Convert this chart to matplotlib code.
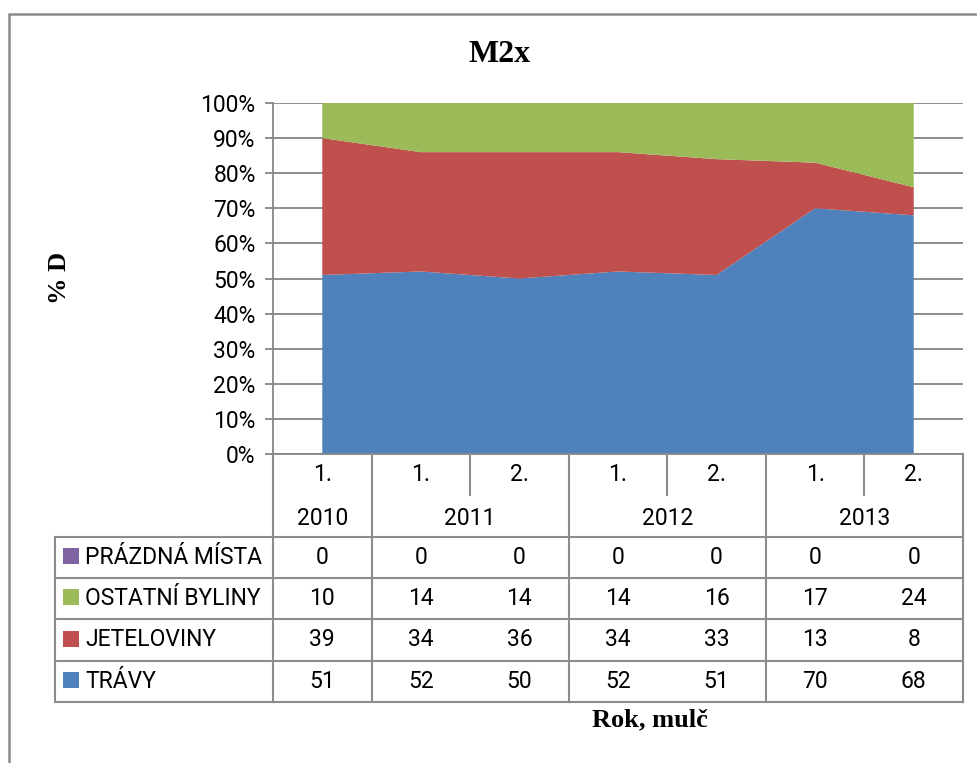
import numpy as np
import matplotlib
matplotlib.use("Agg")
import matplotlib.pyplot as plt
from matplotlib.patches import Rectangle
from matplotlib.ticker import PercentFormatter

# ---- data -------------------------------------------------------------
years = ["2010", "2011", "2012", "2013"]
year_spans = [1, 2, 2, 2]                      # number of cuts per year
cuts = ["1.", "1.", "2.", "1.", "2.", "1.", "2."]

series_names = ["TRÁVY", "JETELOVINY", "OSTATNÍ BYLINY", "PRÁZDNÁ MÍSTA"]
travy = [51, 52, 50, 52, 51, 70, 68]
jeteloviny = [39, 34, 36, 34, 33, 13, 8]
ostatni_byliny = [10, 14, 14, 14, 16, 17, 24]
prazdna_mista = [0, 0, 0, 0, 0, 0, 0]
series_colors = ["#4F81BD", "#C0504D", "#9BBB59", "#8064A2"]

title = "M2x"
y_title = "% D"
x_title = "Rok, mulč"

# ---- figure geometry (pixels) ------------------------------------------
W, H = 977, 763
fig = plt.figure(figsize=(W / 100, H / 100), dpi=100)

def fx(px):
    return px / W

def fy(py):
    return 1 - py / H

GRID = "#868686"
LINE = "#8c8c8c"
SANS = "Roboto"
SERIF = "Liberation Serif"
FS = 16.5

plot_l, plot_r, plot_t, plot_b = 273, 963, 103, 454
table_l, table_b = 55, 702

# ---- stacked 100 % area -----------------------------------------------
ax = fig.add_axes([fx(plot_l), fy(plot_b), fx(plot_r - plot_l), (plot_b - plot_t) / H])
n = len(cuts)
x = np.arange(n) + 0.5
stack = np.array([travy, jeteloviny, ostatni_byliny, prazdna_mista], dtype=float)
shares = stack / stack.sum(axis=0)
ax.stackplot(x, shares, colors=series_colors, linewidth=0, zorder=2)

ax.set_xlim(0, n)
ax.set_ylim(0, 1)
ax.set_yticks(np.linspace(0, 1, 11))
ax.yaxis.set_major_formatter(PercentFormatter(1.0, decimals=0))
ax.set_xticks([])
ax.grid(axis="y", color=GRID, lw=1.3, zorder=1)
ax.set_axisbelow(True)
for s in ("top", "right"):
    ax.spines[s].set_visible(False)
for s in ("left", "bottom"):
    ax.spines[s].set_color(GRID)
    ax.spines[s].set_linewidth(1.3)
ax.tick_params(axis="y", length=6, width=1.3, color=GRID, pad=6.5,
               labelsize=FS, labelfontfamily=SANS)

# ---- data table below the axis -----------------------------------------
unit = (plot_r - plot_l) / n                 # pixels per category
label_w = (plot_l - table_l) / unit          # label column width in category units
n_rows = 6
tax = fig.add_axes([fx(table_l), fy(table_b), fx(plot_r - table_l), (table_b - plot_b) / H])
tax.set_xlim(-label_w, n)
tax.set_ylim(n_rows, 0)
tax.axis("off")

lk = dict(color=LINE, lw=1.5, clip_on=False, solid_capstyle="projecting")
# vertical rules
bounds = np.cumsum(year_spans)
tax.plot([-label_w, -label_w], [2, n_rows], **lk)
tax.plot([0, 0], [0, n_rows], **lk)
for k in range(1, n + 1):
    top_only = k not in bounds
    tax.plot([k, k], [0, 1 if top_only else n_rows], **lk)
# horizontal rules
for r in range(2, n_rows + 1):
    tax.plot([-label_w, n], [r, r], **lk)

# header rows
for i, c in enumerate(cuts):
    tax.text(i + 0.5, 0.5, c, ha="center", va="center", fontsize=FS, family=SANS)
start = 0
for yr, span in zip(years, year_spans):
    tax.text(start + span / 2, 1.55, yr, ha="center", va="center", fontsize=FS, family=SANS)
    start += span

# series rows (top row = last series)
row_series = list(zip(series_names, stack, series_colors))[::-1]
sq_w = 16 / unit
sq_h = 16 / ((table_b - plot_b) / n_rows)
sq_x = -label_w + (63 - table_l) / unit
txt_x = -label_w + (85 - table_l) / unit
for r, (name, vals, col) in enumerate(row_series):
    yc = 2 + r + 0.5
    tax.add_patch(Rectangle((sq_x, yc - sq_h / 2 - 0.03), sq_w, sq_h, facecolor=col,
                            edgecolor="none", clip_on=False))
    tax.text(txt_x, yc, name, ha="left", va="center", fontsize=FS, family=SANS)
    for i, v in enumerate(vals):
        tax.text(i + 0.5, yc, f"{int(v)}", ha="center", va="center", fontsize=FS, family=SANS)

# ---- titles -----------------------------------------------------------
fig.text(fx(500), fy(54), title, ha="center", va="center", fontsize=23,
         fontweight="bold", family=SERIF)
fig.text(fx(60), fy(278), y_title, ha="center", va="center", rotation=90,
         fontsize=19, fontweight="bold", family=SERIF)
fig.text(fx(650), fy(720), x_title, ha="center", va="center", fontsize=19,
         fontweight="bold", family=SERIF)

# outer chart frame
fig.patches.append(Rectangle((fx(9), fy(H + 10)), fx(W + 20), (H + 10 - 14) / H,
                             transform=fig.transFigure, fill=False,
                             edgecolor="#8a8a8a", lw=1.8))

fig.savefig("out.png", dpi=100)
